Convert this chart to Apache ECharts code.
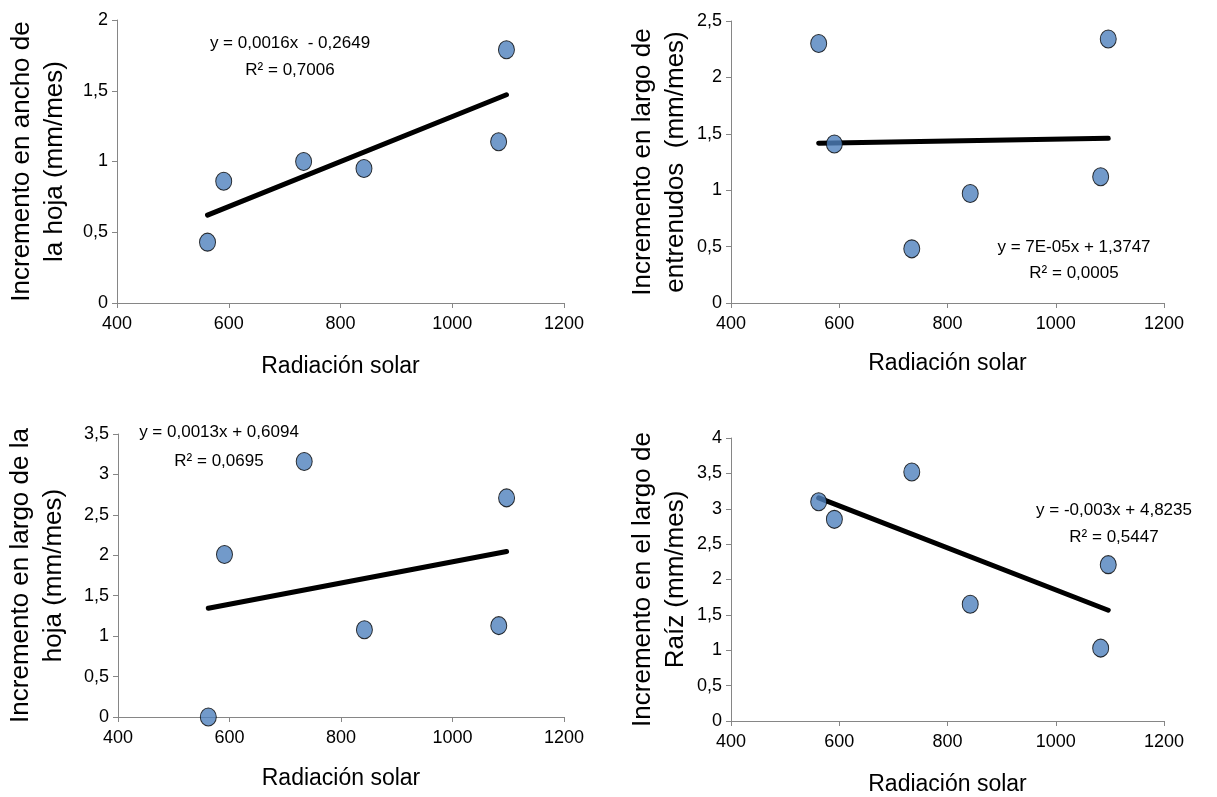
<!DOCTYPE html>
<html>
<head>
<meta charset="utf-8">
<title>Radiación solar</title>
<script src="https://cdn.jsdelivr.net/npm/echarts@6/dist/echarts.min.js"></script>
<style>
  html, body { margin: 0; padding: 0; background: #fff; }
  #main { width: 1217px; height: 797px; }
</style>
</head>
<body>
<div id="main"></div>
<script>
// valores
var radiacion = [562, 591, 734, 842, 1083, 1097]
var anchoHoja = [0.43, 0.86, 1.00, 0.95, 1.14, 1.79]
var largoEntrenudos = [2.30, 1.41, 0.48, 0.97, 1.12, 2.34]
var largoHoja = [0.00, 2.01, 3.16, 1.08, 1.13, 2.71]
var largoRaiz = [3.10, 2.85, 3.52, 1.65, 1.03, 2.21]

var xTitulo = 'Radiación solar'
var yTitulos = [
  'Incremento en ancho de\nla hoja (mm/mes)',
  'Incremento en largo de\nentrenudos  (mm/mes)',
  'Incremento en largo de la\nhoja (mm/mes)',
  'Incremento en el largo de\nRaíz (mm/mes)'
]
var yMax = [2, 2.5, 3.5, 4]
var ecuaciones = [
  ['y = 0,0016x  - 0,2649', 'R² = 0,7006'],
  ['y = 7E-05x + 1,3747', 'R² = 0,0005'],
  ['y = 0,0013x + 0,6094', 'R² = 0,0695'],
  ['y = -0,003x + 4,8235', 'R² = 0,5447']
]

var FONT = '"Liberation Sans", Arial, sans-serif'
var valores = [anchoHoja, largoEntrenudos, largoHoja, largoRaiz]

// paneles: left, top, width, height
var grids = [
  { left: 117, top: 20, width: 447, height: 283 },
  { left: 731, top: 21, width: 433, height: 282 },
  { left: 118, top: 434, width: 446, height: 283 },
  { left: 731, top: 438, width: 433, height: 283 }
]
var yNameGap = [46, 39, 48, 39]
var xNameGap = [52, 49, 50, 52]
// centro de cada línea de la ecuación [x, y1, y2]
var ecPos = [[290, 43, 70], [1074, 247, 273], [219, 432, 461], [1114, 510, 537]]

// línea de tendencia por mínimos cuadrados
function tendencia(xs, ys) {
  var n = xs.length
  var mx = xs.reduce((a, b) => a + b, 0) / n
  var my = ys.reduce((a, b) => a + b, 0) / n
  var sxy = 0
  var sxx = 0
  for (var i = 0; i < n; i++) {
    sxy += (xs[i] - mx) * (ys[i] - my)
    sxx += (xs[i] - mx) * (xs[i] - mx)
  }
  var m = sxy / sxx
  var b = my - m * mx
  var x0 = Math.min.apply(null, xs)
  var x1 = Math.max.apply(null, xs)
  return [[x0, m * x0 + b], [x1, m * x1 + b]]
}

function coma(v) {
  return String(v).replace('.', ',')
}

var xAxis = []
var yAxis = []
var series = []
var graphic = []

for (let i = 0; i < 4; i++) {
  xAxis.push({
    gridIndex: i,
    type: 'value',
    min: 400,
    max: 1200,
    interval: 200,
    name: xTitulo,
    nameLocation: 'middle',
    nameGap: xNameGap[i],
    nameTextStyle: { fontFamily: FONT, fontSize: 23, color: '#000' },
    axisLine: { show: true, onZero: false, lineStyle: { color: '#868686', width: 1 } },
    axisTick: { show: true, length: 5, lineStyle: { color: '#868686' } },
    axisLabel: { fontFamily: FONT, fontSize: 18, color: '#000', margin: 12, formatter: coma },
    splitLine: { show: false }
  })
  yAxis.push({
    gridIndex: i,
    type: 'value',
    min: 0,
    max: yMax[i],
    interval: 0.5,
    name: yTitulos[i],
    nameLocation: 'middle',
    nameGap: yNameGap[i],
    nameRotate: 90,
    nameTextStyle: { fontFamily: FONT, fontSize: 26, color: '#000', lineHeight: 33 },
    axisLine: { show: true, lineStyle: { color: '#868686', width: 1 } },
    axisTick: { show: true, length: 5, lineStyle: { color: '#868686' } },
    axisLabel: { fontFamily: FONT, fontSize: 18, color: '#000', margin: 9, formatter: coma },
    splitLine: { show: false }
  })
  series.push({
    type: 'line',
    xAxisIndex: i,
    yAxisIndex: i,
    data: tendencia(radiacion, valores[i]),
    showSymbol: false,
    symbol: 'none',
    lineStyle: { color: '#000', width: 5, cap: 'round' },
    silent: true,
    z: 2
  })
  series.push({
    type: 'scatter',
    xAxisIndex: i,
    yAxisIndex: i,
    data: radiacion.map((x, k) => [x, valores[i][k]]),
    symbol: 'circle',
    symbolSize: [16, 18],
    itemStyle: { color: '#4F81BD', borderColor: '#000', borderWidth: 1 },
    z: 3
  })
  for (let j = 0; j < 2; j++) {
    graphic.push({
      type: 'text',
      x: ecPos[i][0],
      y: ecPos[i][j + 1],
      style: {
        text: ecuaciones[i][j],
        fontFamily: FONT,
        fontSize: 17,
        fill: '#000',
        align: 'center',
        verticalAlign: 'middle'
      }
    })
  }
}

var chart = echarts.init(document.getElementById('main'))
chart.setOption({
  animation: false,
  grid: grids,
  xAxis: xAxis,
  yAxis: yAxis,
  series: series,
  graphic: graphic
})
</script>
</body>
</html>
